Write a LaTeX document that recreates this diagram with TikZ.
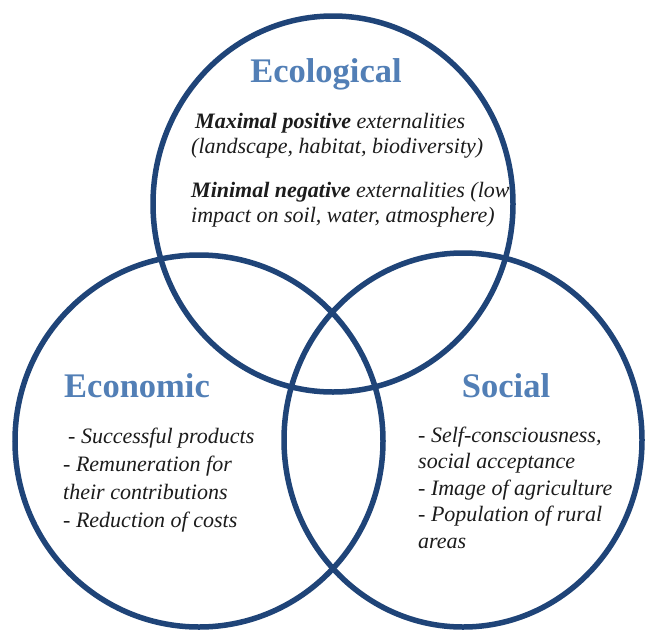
\documentclass[tikz,border=0pt]{standalone}
\usepackage{fontspec}
\setmainfont{Liberation Serif}
\definecolor{ringblue}{HTML}{1F4478}
\definecolor{headblue}{HTML}{527FB6}
\definecolor{bodyink}{HTML}{1C1C1C}
\begin{document}
\begin{tikzpicture}[x=1pt,y=-1pt,
  ring/.style={draw=ringblue, line width=5.5pt},
  heading/.style={anchor=base, inner sep=0pt, text=headblue,
    font=\fontsize{34.5}{40}\selectfont\bfseries},
  % multi-line blocks are placed by the baseline of their last line
  bodytext/.style={anchor=base west, inner sep=0pt, align=left, text=bodyink,
    font=\fontsize{22}{#1}\selectfont\itshape},
]
\useasboundingbox (0,0) rectangle (647,632);
\fill[white] (0,0) rectangle (647,632);

% the three overlapping rings
\draw[ring] (333,204) ellipse [x radius=180, y radius=188];
\draw[ring] (199,441) ellipse [x radius=184, y radius=186];
\draw[ring] (463,440) ellipse [x radius=179, y radius=187];

% headings
\node[heading] (ecoTitle) at (326,82) {Ecological};
\node[heading] (econTitle) at (137,397) {Economic};
\node[heading] (socTitle) at (506,397) {Social};

% ecological dimension
\node[bodytext=25] (ecoPos) at (191,153)
  {\hspace{4pt}\textbf{Maximal positive} externalities\\(landscape, habitat, biodiversity)};
\node[bodytext=25] (ecoNeg) at (191,222)
  {\textbf{Minimal negative} externalities (low\\impact on soil, water, atmosphere)};

% economic dimension
\node[bodytext=28] (econList) at (63,527)
  {\hspace{5pt}- Successful products\\- Remuneration for\\their contributions\\- Reduction of costs};

% social dimension
\node[bodytext=26.5] (socList) at (418,548)
  {- Self-consciousness,\\social acceptance\\- Image of agriculture\\- Population of rural\\areas};
\end{tikzpicture}
\end{document}
